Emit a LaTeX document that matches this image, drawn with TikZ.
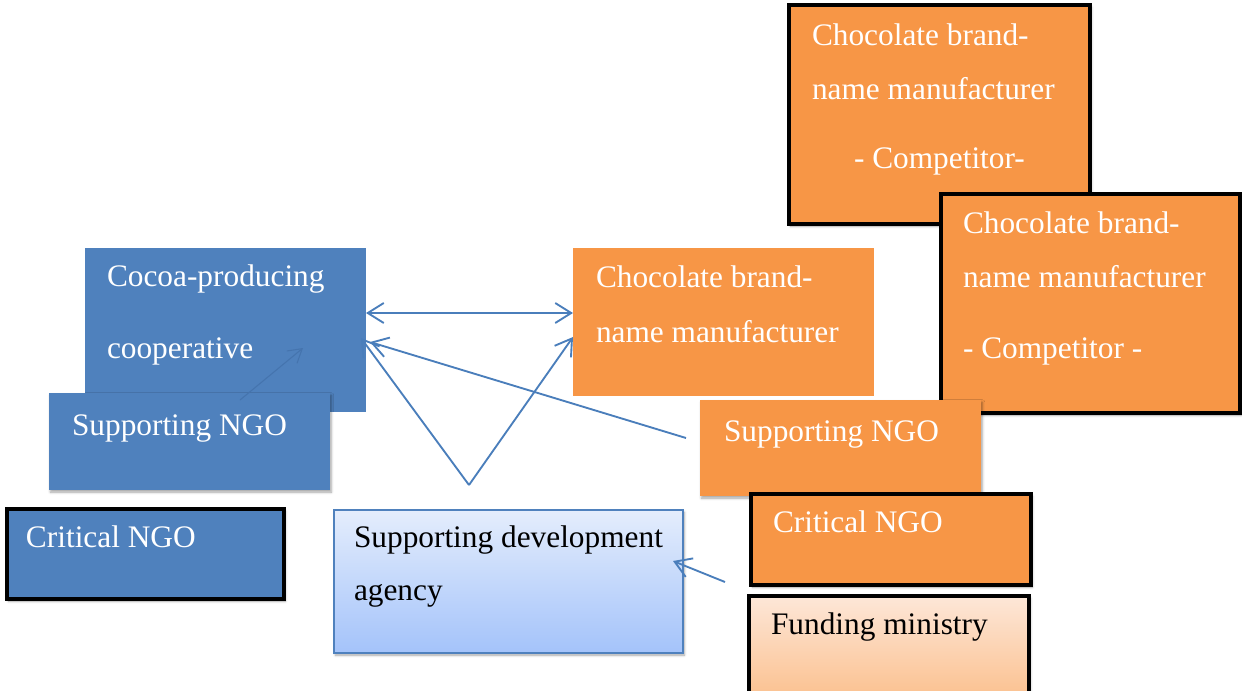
\documentclass[tikz,border=0pt]{standalone}
\usepackage{fontspec}
\setmainfont{Liberation Serif}
\usetikzlibrary{arrows.meta,fit,calc,shadows.blur}

\definecolor{boxblue}{HTML}{4F81BD}
\definecolor{boxorange}{HTML}{F79646}
\definecolor{linkblue}{HTML}{4A7EBB}
\definecolor{faintblue}{HTML}{4574AE}
\definecolor{agencytop}{HTML}{E4EDFC}
\definecolor{agencybot}{HTML}{A4C3FA}
\definecolor{fundtop}{HTML}{FDE7D8}
\definecolor{fundbot}{HTML}{FBC08E}

\tikzset{
  box/.style={inner sep=0pt, outer sep=0pt, rectangle},
  soft/.style={blur shadow={shadow xshift=1pt, shadow yshift=-1.6pt,
      shadow blur radius=1.8pt, shadow opacity=35}},
  bluebox/.style={box, fill=boxblue},
  orangebox/.style={box, fill=boxorange},
  framed/.style={draw=black, line width=3.5pt},
  lbl/.style={inner sep=0pt, outer sep=0pt, anchor=base west,
      font=\fontsize{23.5}{28}\selectfont},
  wlbl/.style={lbl, text=white},
  blbl/.style={lbl, text=black},
  link/.style={draw=linkblue, line width=1.4pt,
      -{Straight Barb[length=12pt,width=15pt]}},
  linkboth/.style={draw=linkblue, line width=1.4pt,
      {Straight Barb[length=12pt,width=15pt]}-{Straight Barb[length=12pt,width=15pt]}},
}

\begin{document}
\begin{tikzpicture}[x=0.75pt, y=-0.75pt]
\useasboundingbox (0,0) rectangle (1242,690);

% competitor manufacturers (top right)
\node[orangebox, framed, soft, fit={(789,5)(1090,224)}] (comp1) {};
\node[wlbl] (comp1-l1) at (812,45) {Chocolate brand-};
\node[wlbl] (comp1-l2) at (812,99) {name manufacturer};
\node[wlbl] (comp1-l3) at (854,168) {- Competitor-};

\node[orangebox, framed, soft, fit={(941,194)(1240,413)}] (comp2) {};
\node[wlbl] (comp2-l1) at (963,233) {Chocolate brand-};
\node[wlbl] (comp2-l2) at (963,287) {name manufacturer};
\node[wlbl] (comp2-l3) at (963,358) {- Competitor -};

% producer side (blue)
\node[bluebox, fit={(85,248)(366,412)}] (coop) {};
\node[wlbl] (coop-l1) at (107,286) {Cocoa-producing};
\node[wlbl] (coop-l2) at (107,358) {cooperative};

\node[bluebox, soft, fit={(49,393)(330,490)}] (sngoL) {};
\node[wlbl] (sngoL-l1) at (72,435) {Supporting NGO};

\draw[draw=faintblue, line width=0.8pt, -{Straight Barb[length=10pt,width=12pt]}]
  ($(sngoL.north west)+(191,7)$) -- ($(coop.north west)+(218,100)$);

\node[bluebox, framed, soft, fit={(7,509)(284,599)}] (cngoL) {};
\node[wlbl] (cngoL-l1) at (26,547) {Critical NGO};

% manufacturer side (orange)
\node[orangebox, fit={(573,248)(874,396)}] (choc) {};
\node[wlbl] (choc-l1) at (596,287) {Chocolate brand-};
\node[wlbl] (choc-l2) at (596,342) {name manufacturer};

\node[orangebox, soft, fit={(700,400)(981,496)}] (sngoR) {};
\node[wlbl] (sngoR-l1) at (724,441) {Supporting NGO};

\node[orangebox, framed, soft, fit={(751,494)(1031,585)}] (cngoR) {};
\node[wlbl] (cngoR-l1) at (773,532) {Critical NGO};

\node[box, framed, soft, top color=fundtop, bottom color=fundbot,
      fit={(749,596)(1029,700)}] (fund) {};
\node[blbl] (fund-l1) at (771,634) {Funding ministry};

% development agency
\node[box, draw=boxblue, line width=1.3pt, soft,
      top color=agencytop, bottom color=agencybot,
      fit={(334,510)(683,653)}] (agency) {};
\node[blbl] (agency-l1) at (354,547) {Supporting development};
\node[blbl] (agency-l2) at (354,600) {agency};

% connectors
\coordinate (vApex) at (469,485);
\draw[linkboth] ($(coop.north east)+(0,65)$) -- ($(choc.north west)+(0,65)$);
\draw[link] (vApex) -- ($(coop.north east)+(-5,90)$);
\draw[link] (vApex) -- ($(choc.north west)+(0,89)$);
\draw[link] ($(sngoR.north west)+(-14,38)$) -- ($(coop.north east)+(4,94)$);
\draw[link] ($(cngoR.south west)+(-26,-3)$) -- ($(agency.north east)+(-10,51)$);
\end{tikzpicture}
\end{document}
